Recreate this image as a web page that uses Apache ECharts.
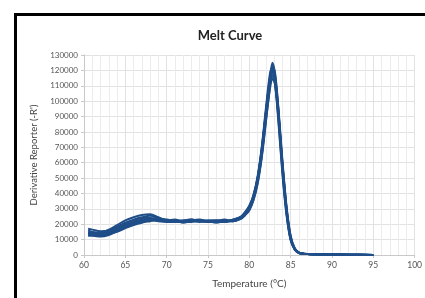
<!DOCTYPE html>
<html>
<head>
<meta charset="utf-8">
<script src="https://cdn.jsdelivr.net/npm/echarts@6/dist/echarts.min.js"></script>
<style>
  html, body { margin: 0; padding: 0; background: #fff; }
  #myChart { width: 425px; height: 298px; }
</style>
</head>
<body>
<div id="myChart"></div>
<script>
// temperatures (°C) shared by every well
var temps = [60.5, 61, 62, 63, 64, 65, 66, 67, 68, 69, 70, 71, 72, 73, 74, 75, 76, 77, 78, 79, 79.5,
  80, 80.5, 81, 81.5, 82, 82.5, 82.8, 83.1, 83.5, 84, 84.5, 85, 85.5, 86, 86.5, 87, 88, 90, 92, 95];

// derivative reporter (-R') per well
var wellA = [14000, 13500, 13000, 14500, 17000, 19500, 21500, 23000, 23500, 23000, 22500, 22000, 22000, 22500, 22000, 22000, 22500, 22000, 22500, 24500, 27000,
  31000, 38000, 50000, 68000, 92000, 116000, 125000, 118000, 96000, 60000, 30000, 11000, 4000, 1500, 900, 700, 500, 300, 200, 0];
var wellB = [17000, 16500, 15500, 16000, 18500, 21000, 23000, 24500, 25500, 24000, 22500, 21500, 22000, 23000, 22000, 21500, 22000, 23000, 22000, 24000, 26500,
  30000, 37000, 48000, 65000, 89000, 112000, 120000, 115000, 94000, 58000, 29000, 10500, 3800, 1400, 900, 700, 500, 300, 200, 0];
var wellC = [12500, 12500, 12000, 13000, 15500, 18000, 20000, 21500, 22500, 22500, 22000, 22500, 21000, 22000, 22500, 22000, 21500, 22000, 23000, 25000, 28000,
  32000, 39000, 51000, 70000, 95000, 118000, 122000, 114000, 90000, 55000, 27000, 10000, 3500, 1300, 800, 600, 400, 300, 200, 0];
var wellD = [15000, 14500, 14000, 15500, 18000, 20500, 22500, 24000, 24000, 23500, 23000, 22000, 21500, 22500, 23000, 22000, 22000, 21500, 22500, 24000, 26000,
  29500, 36000, 47000, 64000, 87000, 108000, 115000, 111000, 92000, 60000, 31000, 12000, 4200, 1600, 900, 700, 500, 300, 200, 0];
var wellE = [13500, 13000, 12500, 13500, 15000, 17500, 19500, 21000, 22000, 23000, 22500, 22000, 22500, 22000, 21500, 22500, 22500, 22000, 22000, 24500, 27500,
  31500, 38500, 50000, 69000, 93000, 115000, 119000, 112000, 88000, 53000, 26000, 9500, 3500, 1300, 800, 600, 400, 300, 200, 0];
var wellF = [16000, 15000, 14500, 16500, 19500, 22500, 24500, 26000, 26500, 24500, 22500, 22000, 21500, 21500, 22500, 22000, 21000, 22000, 22500, 24000, 26500,
  30500, 37500, 49000, 67000, 91000, 113000, 117000, 113000, 93000, 59000, 30000, 11500, 4000, 1500, 900, 700, 500, 300, 200, 0];
var wellG = [14500, 14000, 13500, 14000, 16500, 19000, 21000, 22500, 23000, 22500, 22500, 23000, 22000, 22500, 22000, 21500, 22500, 22000, 22000, 23500, 26000,
  29000, 35500, 46000, 63000, 86000, 110000, 123000, 119000, 97000, 62000, 32000, 12500, 4300, 1600, 1000, 700, 500, 300, 200, 0];
var wellH = [13000, 13500, 13500, 14000, 16000, 18500, 20500, 22000, 23000, 22000, 21500, 21500, 22500, 23000, 22000, 22500, 22000, 21500, 23000, 25000, 27500,
  31000, 38000, 49500, 68000, 92000, 114000, 121000, 116000, 95000, 57000, 28000, 10500, 3700, 1400, 800, 600, 400, 300, 200, 0];

var wells = [wellA, wellB, wellC, wellD, wellE, wellF, wellG, wellH];

var font = "Lato, 'Open Sans', sans-serif";
var myChart = echarts.init(document.getElementById("myChart"));

var series = wells.map(function (w) {
  return {
    type: "line",
    data: temps.map(function (t, i) { return [t, w[i]]; }),
    smooth: 0.3,
    showSymbol: false,
    lineStyle: { color: "#1f4e89", width: 2 },
    silent: true
  };
});

var option = {
  animation: false,
  title: {
    text: "Melt Curve",
    left: 225,
    textAlign: "center",
    top: 24,
    textStyle: { fontFamily: font, fontSize: 13, fontWeight: "bold", color: "#222" }
  },
  graphic: [{
    type: "rect",
    left: 13, top: 12,
    shape: { width: 430, height: 300 },
    style: { fill: "none", stroke: "#000", lineWidth: 3 }
  }],
  grid: { left: 84, right: 10, top: 55, bottom: 43 },
  xAxis: {
    type: "value",
    min: 60, max: 100, interval: 5,
    name: "Temperature (°C)",
    nameLocation: "middle",
    nameGap: 24,
    nameTextStyle: { fontFamily: font, fontSize: 10, color: "#444" },
    axisLine: { lineStyle: { color: "#c8c8c8" } },
    axisTick: { show: true, length: 3, lineStyle: { color: "#c8c8c8" } },
    axisLabel: { fontFamily: font, fontSize: 8.5, color: "#555", margin: 6 },
    splitLine: { show: true, lineStyle: { color: "#e2e2e2", width: 1 } },
    minorTick: { show: false, splitNumber: 5 },
    minorSplitLine: { show: true, lineStyle: { color: "#ececec", width: 1 } }
  },
  yAxis: {
    type: "value",
    min: 0, max: 130000, interval: 10000,
    name: "Derivative Reporter (-R')",
    nameLocation: "middle",
    nameGap: 45,
    nameTextStyle: { fontFamily: font, fontSize: 9.5, color: "#444" },
    axisLine: { show: true, lineStyle: { color: "#c8c8c8" } },
    axisTick: { show: true, length: 3, lineStyle: { color: "#c8c8c8" } },
    axisLabel: {
      fontFamily: font, fontSize: 8, color: "#555", margin: 6,
      formatter: function (v) { return String(v); }
    },
    splitLine: { show: true, lineStyle: { color: "#e2e2e2", width: 1 } }
  },
  series: series
};

myChart.setOption(option);
</script>
</body>
</html>
